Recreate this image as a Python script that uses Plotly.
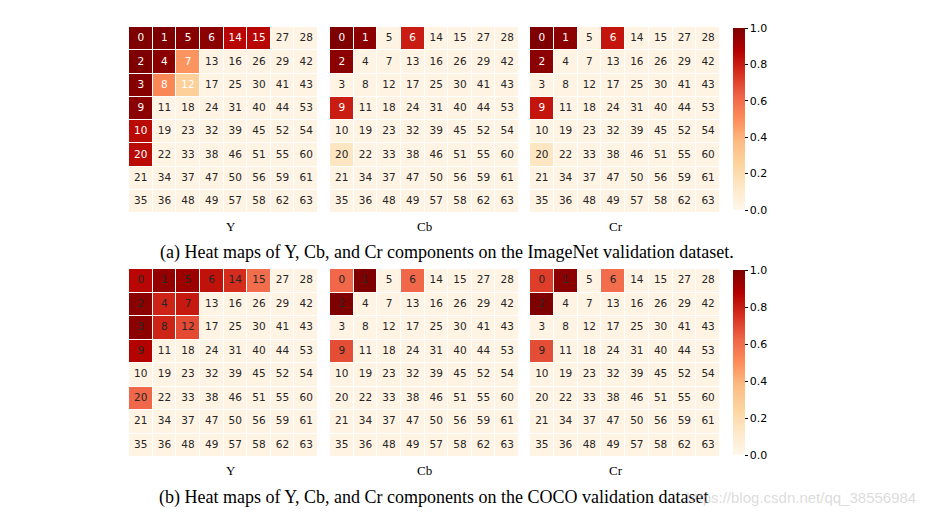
import plotly.graph_objects as go

# zigzag index labels (8x8)
zigzag = [
    [0, 1, 5, 6, 14, 15, 27, 28],
    [2, 4, 7, 13, 16, 26, 29, 42],
    [3, 8, 12, 17, 25, 30, 41, 43],
    [9, 11, 18, 24, 31, 40, 44, 53],
    [10, 19, 23, 32, 39, 45, 52, 54],
    [20, 22, 33, 38, 46, 51, 55, 60],
    [21, 34, 37, 47, 50, 56, 59, 61],
    [35, 36, 48, 49, 57, 58, 62, 63],
]

BASE = 0.03
# normalized heat values for highlighted zigzag indices (others = BASE)
imagenet_Y = {0: 1.0, 1: 1.0, 5: 0.98, 6: 0.97, 14: 0.86, 15: 0.86, 2: 1.0, 4: 0.97,
              7: 0.48, 3: 0.98, 8: 0.52, 12: 0.27, 9: 0.97, 10: 0.85, 20: 0.85}
imagenet_Cb = {0: 1.0, 1: 0.97, 6: 0.8, 2: 0.97, 9: 0.8, 20: 0.14}
imagenet_Cr = {0: 1.0, 1: 0.97, 6: 0.82, 2: 0.97, 9: 0.82, 20: 0.14}
coco_Y = {0: 0.86, 1: 0.95, 5: 0.93, 6: 0.83, 14: 0.76, 15: 0.6, 2: 0.97, 4: 0.78,
          7: 0.81, 3: 0.97, 8: 0.78, 12: 0.69, 9: 0.87, 20: 0.62}
coco_Cb = {0: 0.62, 1: 1.0, 6: 0.62, 2: 1.0, 9: 0.68}
coco_Cr = {0: 0.72, 1: 0.97, 6: 0.6, 2: 1.0, 9: 0.68}

component_labels = ["Y", "Cb", "Cr"]
caption_a = "(a) Heat maps of Y, Cb, and Cr components on the ImageNet validation dataset."
caption_b = "(b) Heat maps of Y, Cb, and Cr components on the COCO validation dataset"
watermark = "https://blog.csdn.net/qq_38556984"
cbar_ticks = [0.0, 0.2, 0.4, 0.6, 0.8, 1.0]

W, H = 926, 517
px = lambda v: v / W
py = lambda v: 1 - v / H

x_domains = [(129, 318), (330, 519), (530, 720)]
y_domains = [(27, 213), (269, 457)]
cbar_pos = [(28, 210), (270, 455)]

colorscale = "OrRd"

fig = go.Figure()

rows = [[imagenet_Y, imagenet_Cb, imagenet_Cr], [coco_Y, coco_Cb, coco_Cr]]
k = 0
for r, row in enumerate(rows):
    for c, vals in enumerate(row):
        k += 1
        xa = "x" if k == 1 else f"x{k}"
        ya = "y" if k == 1 else f"y{k}"
        z = [[vals.get(idx, BASE) for idx in line] for line in zigzag]
        show = (c == 2)
        cb = None
        if show:
            t, b = cbar_pos[r]
            cb = dict(x=px(733), xanchor="left", y=py((t + b) / 2), yanchor="middle",
                      len=(b - t) / H, lenmode="fraction", thickness=12, xpad=0, ypad=0,
                      outlinewidth=0, tickvals=cbar_ticks, ticktext=[f"{v:.1f}" for v in cbar_ticks],
                      ticks="outside", ticklen=3, tickwidth=1, tickcolor="#000",
                      tickfont=dict(family="DejaVu Sans", size=11, color="#000"))
        fig.add_trace(go.Heatmap(z=z, x=list(range(8)), y=list(range(8)), colorscale=colorscale,
                                 zmin=0, zmax=1, xgap=1, ygap=1, showscale=show, colorbar=cb,
                                 xaxis=xa, yaxis=ya, hoverinfo="skip"))
        xs, ys, txt, cols = [], [], [], []
        for i, line in enumerate(zigzag):
            for j, idx in enumerate(line):
                xs.append(j); ys.append(i); txt.append(str(idx))
                v = vals.get(idx, BASE)
                if r == 0 and v > 0.2:
                    cols.append("#ffffff")
                else:
                    cols.append("#262626")
        fig.add_trace(go.Scatter(x=xs, y=ys, text=txt, mode="text",
                                 textfont=dict(family="DejaVu Sans", size=10.5, color=cols),
                                 xaxis=xa, yaxis=ya, showlegend=False, hoverinfo="skip"))
        x0, x1 = x_domains[c]
        y0, y1 = y_domains[r]
        axname_x = "xaxis" if k == 1 else f"xaxis{k}"
        axname_y = "yaxis" if k == 1 else f"yaxis{k}"
        fig.update_layout(**{
            axname_x: dict(domain=[px(x0), px(x1)], range=[-0.5, 7.5], visible=False,
                           anchor=ya, fixedrange=True),
            axname_y: dict(domain=[py(y1), py(y0)], range=[7.5, -0.5], visible=False,
                           anchor=xa, fixedrange=True),
        })
        fig.add_annotation(text=component_labels[c], x=px((x0 + x1) / 2), y=py(y1 + 13),
                           xref="paper", yref="paper", showarrow=False, yanchor="middle",
                           font=dict(family="Liberation Serif", size=13, color="#000"))

fig.add_annotation(text=caption_a, x=px(447), y=py(252), xref="paper", yref="paper",
                   showarrow=False, yanchor="middle",
                   font=dict(family="Liberation Serif", size=18, color="#000"))
fig.add_annotation(text=caption_b, x=px(157), xanchor="left", y=py(497), xref="paper", yref="paper",
                   showarrow=False, yanchor="middle",
                   font=dict(family="Liberation Serif", size=18, color="#000"))
fig.add_annotation(text=watermark, x=px(918), xanchor="right", y=py(497), xref="paper", yref="paper",
                   showarrow=False, yanchor="middle",
                   font=dict(family="Liberation Sans", size=15, color="rgba(190,190,190,0.55)"))

fig.update_layout(width=W, height=H, margin=dict(l=0, r=0, t=0, b=0),
                  paper_bgcolor="white", plot_bgcolor="white", showlegend=False)

fig.write_html("out.html")
